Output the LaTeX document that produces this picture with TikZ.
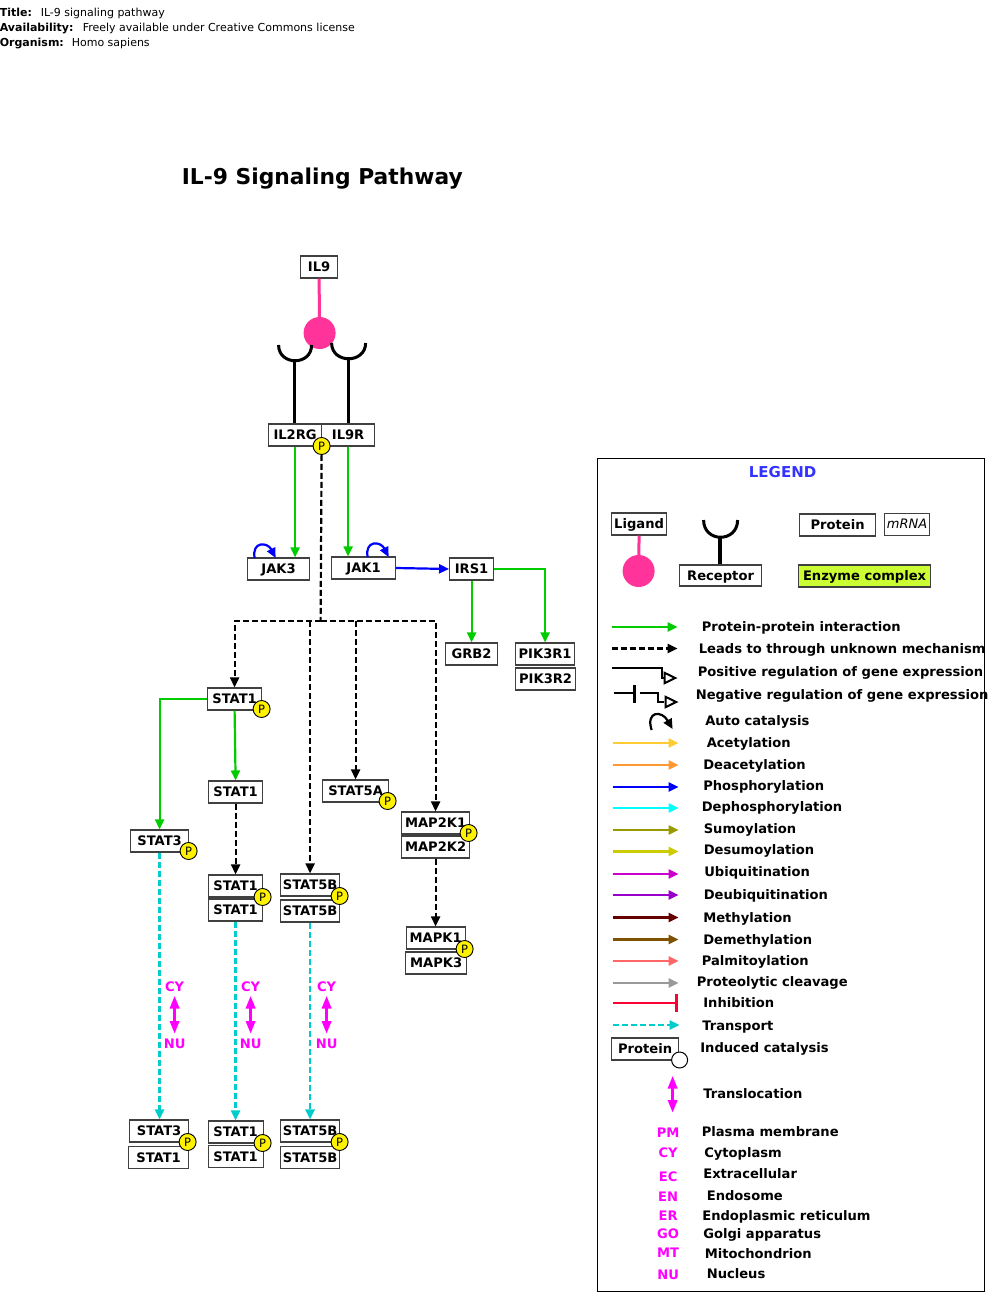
\documentclass[tikz,border=0pt]{standalone}
\usepackage{fontspec}
\setmainfont{DejaVu Sans}
\usetikzlibrary{arrows.meta,positioning}
\definecolor{ppigreen}{HTML}{00CC00}
\definecolor{ligandpink}{HTML}{FF3399}
\definecolor{transportcyan}{HTML}{00CCCC}
\definecolor{transloc}{HTML}{FF00FF}
\definecolor{legendblue}{HTML}{3333FF}
\definecolor{enzymegreen}{HTML}{CCFF33}
\definecolor{acetyl}{HTML}{FFCC33}
\definecolor{deacetyl}{HTML}{FF9933}
\definecolor{dephos}{HTML}{00FFFF}
\definecolor{sumo}{HTML}{999900}
\definecolor{desumo}{HTML}{CCCC00}
\definecolor{ubiq}{HTML}{CC00CC}
\definecolor{deubiq}{HTML}{9900CC}
\definecolor{methyl}{HTML}{660000}
\definecolor{demethyl}{HTML}{7F5200}
\definecolor{palm}{HTML}{FF6666}
\definecolor{proteo}{HTML}{999999}
\definecolor{inhib}{HTML}{FF0033}
\tikzset{
  protein/.style={draw=black!75,line width=1.1pt,fill=white,inner sep=0pt,text height=9pt,text depth=0pt,font=\fontsize{13.1}{13}\selectfont\bfseries},
  phospho/.style={circle,draw=black,line width=0.9pt,fill=yellow,minimum size=17pt,inner sep=0pt,font=\fontsize{11.5}{11}\selectfont},
  legendtext/.style={anchor=west,inner sep=0pt,text height=11.5pt,text depth=2.5pt,font=\fontsize{13.1}{13}\selectfont\bfseries},
  headtext/.style={anchor=west,inner sep=0pt,text height=12pt,text depth=2pt,font=\fontsize{11}{11}\selectfont},
  loctext/.style={text=transloc,inner sep=0pt,font=\fontsize{13.1}{13}\selectfont\bfseries},
  tip/.style={-{Triangle[length=10pt,width=9pt]}},
  ppi/.style={tip,ppigreen,line width=2.2pt},
  unknown/.style={tip,black,line width=2.2pt,dash pattern=on 6pt off 3pt},
  transport/.style={tip,transportcyan,line width=2.4pt,dash pattern=on 6pt off 3pt},
  phos/.style={tip,blue,line width=2.2pt},
  autocat/.style={-{Triangle[length=10pt,width=9pt]},blue,line width=2.2pt},
  stem/.style={black,line width=3.5pt},
  cup/.style={black,line width=3pt},
  ligline/.style={ligandpink,line width=3pt},
  ligball/.style={circle,fill=ligandpink,minimum size=32pt,inner sep=0pt},
  shuttle/.style={{Triangle[length=13pt,width=9pt]}-{Triangle[length=13pt,width=9pt]},transloc,line width=3.5pt},
  regul/.style={black,line width=2pt},
  opentip/.style={-{Triangle[open,fill=white,length=14pt,width=13pt]},black,line width=2pt}
}
\begin{document}
\begin{tikzpicture}[x=1pt,y=-1pt]
  \useasboundingbox (0.4,0) rectangle (1000.4,1306);
  % header
  \node[headtext] (htitle) at (0,12) {\bfseries Title:};
  \node[headtext] (hname) at (41,12) {IL-9 signaling pathway};
  \node[headtext] (havail) at (0,27) {\bfseries Availability:};
  \node[headtext] (hlicense) at (83,27) {Freely available under Creative Commons license};
  \node[headtext] (horg) at (0,42) {\bfseries Organism:};
  \node[headtext] (hhomo) at (72,42) {Homo sapiens};
  \node[anchor=west,inner sep=0pt,font=\fontsize{21.8}{22}\selectfont\bfseries] (maintitle) at (182,179) {IL-9 Signaling Pathway};

  % proteins
  \node[protein,minimum width=37pt,minimum height=22pt] (IL9) at (319.5,267) {IL9};
  \node[protein,minimum width=53pt,minimum height=22pt] (IL2RG) at (295.5,435) {IL2RG};
  \node[protein,minimum width=53pt,minimum height=22pt] (IL9R) at (348.5,435) {IL9R};
  \node[protein,minimum width=62pt,minimum height=22pt] (JAK3) at (279,569) {JAK3};
  \node[protein,minimum width=64pt,minimum height=22pt] (JAK1) at (364,568) {JAK1};
  \node[protein,minimum width=44pt,minimum height=22pt] (IRS1) at (472,569) {IRS1};
  \node[protein,minimum width=52pt,minimum height=22pt] (GRB2) at (472,654) {GRB2};
  \node[protein,minimum width=59pt,minimum height=22pt] (PIK3R1) at (545.5,654) {PIK3R1};
  \node[protein,minimum width=60pt,minimum height=22pt] (PIK3R2) at (546,679) {PIK3R2};
  \node[protein,minimum width=54pt,minimum height=22pt] (STAT1a) at (235,699) {STAT1};
  \node[protein,minimum width=54pt,minimum height=22pt] (STAT1b) at (236,792) {STAT1};
  \node[protein,minimum width=58pt,minimum height=22pt] (STAT3a) at (160,841) {STAT3};
  \node[protein,minimum width=66pt,minimum height=22pt] (STAT5A) at (356,791) {STAT5A};
  \node[protein,minimum width=68pt,minimum height=22pt] (MAP2K1) at (436,823) {MAP2K1};
  \node[protein,minimum width=68pt,minimum height=22pt] (MAP2K2) at (436,847) {MAP2K2};
  \node[protein,minimum width=59pt,minimum height=22pt] (MAPK1) at (436,938) {MAPK1};
  \node[protein,minimum width=61pt,minimum height=22pt] (MAPK3) at (436.5,963) {MAPK3};
  \node[protein,minimum width=54pt,minimum height=22pt] (STAT1c) at (236,886) {STAT1};
  \node[protein,minimum width=54pt,minimum height=22pt] (STAT1d) at (236,910) {STAT1};
  \node[protein,minimum width=59pt,minimum height=22pt] (STAT5Ba) at (310.5,885) {STAT5B};
  \node[protein,minimum width=59pt,minimum height=22pt] (STAT5Bb) at (310.5,911) {STAT5B};
  \node[protein,minimum width=59pt,minimum height=22pt] (STAT3b) at (159.5,1131) {STAT3};
  \node[protein,minimum width=60pt,minimum height=22pt] (STAT1e) at (159,1157.5) {STAT1};
  \node[protein,minimum width=55pt,minimum height=22pt] (STAT1f) at (236,1132) {STAT1};
  \node[protein,minimum width=55pt,minimum height=22pt] (STAT1g) at (236,1156.5) {STAT1};
  \node[protein,minimum width=59pt,minimum height=22pt] (STAT5Bc) at (310.5,1131) {STAT5B};
  \node[protein,minimum width=59pt,minimum height=22pt] (STAT5Bd) at (310.5,1157.5) {STAT5B};

  % ligand and receptors
  \node[ligball] (ball) at (320,333) {};
  \draw[ligline] (IL9.south) -- (ball);
  \coordinate (cupL) at (295,361);
  \coordinate (cupR) at (349,359);
  \draw[cup] (279,345) .. controls (279,366) and (312,366) .. (312,345);
  \draw[cup] (332,343) .. controls (332,364) and (366,364) .. (366,343);
  \draw[stem] (cupL) -- (cupL |- IL2RG.north);
  \draw[stem] (cupR) -- (cupR |- IL9R.north);

  % phospho marks
  \node[phospho] (pIL) at (322,446) {P};
  \node[phospho] (pS1a) at (262,709) {P};
  \node[phospho] (pS3a) at (189,851) {P};
  \node[phospho] (pS5A) at (388,801) {P};
  \node[phospho] (pM2) at (469,833) {P};
  \node[phospho] (pS1c) at (263,897) {P};
  \node[phospho] (pS5B) at (340,896) {P};
  \node[phospho] (pMK) at (465,949) {P};
  \node[phospho] (pS3b) at (188,1142) {P};
  \node[phospho] (pS1f) at (263,1143) {P};
  \node[phospho] (pS5Bc) at (340,1142) {P};

  % interactions
  \draw[ppi] (IL2RG.south) -- (IL2RG.south |- JAK3.north);
  \draw[ppi] (IL9R.south) -- (IL9R.south |- JAK1.north);
  \draw[phos] (JAK1.east) -- (IRS1.west);
  \draw[ppi] (IRS1.south) -- (GRB2.north);
  \draw[ppi] (IRS1.east) -| (PIK3R1.north);
  \coordinate (jak3s) at (255,558); \coordinate (jak3e) at (276,558);
  \coordinate (jak1s) at (368,557); \coordinate (jak1e) at (389,557);
  \draw[autocat] (jak3s) .. controls (252,541) and (268,542) .. (jak3e);
  \draw[autocat] (jak1s) .. controls (365,540) and (381,541) .. (jak1e);
  \draw[ppi] (STAT1a.west) -| (STAT3a.north);
  \draw[ppi] (STAT1a.south) -- (STAT1b.north);
  \draw[unknown] (STAT1b.south) -- (STAT1c.north);
  \draw[unknown] (MAP2K2.south) -- (MAPK1.north);

  % dashed bus
  \coordinate (bus) at (321,621);
  \draw[black,line width=2.2pt,dash pattern=on 6pt off 3pt] (pIL.south) -- (bus);
  \draw[unknown] (bus) -| (STAT1a.north);
  \draw[unknown] (bus) -| (MAP2K1.north);
  \draw[unknown] (bus -| STAT5Ba.north) -- (STAT5Ba.north);
  \draw[unknown] (bus -| STAT5A.north) -- (STAT5A.north);

  % transport
  \draw[transport] (STAT3a.south) -- (STAT3a.south |- STAT3b.north);
  \draw[transport] (STAT1d.south) -- (STAT1f.north);
  \draw[transport] (STAT5Bb.south) -- (STAT5Bc.north);
  \foreach \n/\x in {a/175,b/251,c/327}{
    \node[loctext] (cy\n) at (\x,986.5) {CY};
    \node[loctext] (nu\n) at (\x,1043.5) {NU};
    \coordinate (up\n) at (\x,995.5);
    \coordinate (dn\n) at (\x,1034);
    \draw[shuttle] (up\n) -- (dn\n);
  }

  % legend
  \draw[black,line width=1pt] (598,458) rectangle (985,1291);
  \node[inner sep=0pt,text=legendblue,font=\fontsize{15}{15}\selectfont\bfseries] (legend) at (783,472.5) {LEGEND};
  \node[protein,minimum width=55pt,minimum height=22pt] (lLigand) at (639.5,524) {Ligand};
  \node[ligball] (lball) at (639,571) {};
  \draw[ligline] (lLigand.south) -- (lball);
  \node[protein,minimum width=82pt,minimum height=21pt] (lReceptor) at (721,575.5) {Receptor};
  \coordinate (lcup) at (720.5,538);
  \draw[cup] (704,520) .. controls (704,543) and (738,543) .. (738,520);
  \draw[stem] (lcup) -- (lcup |- lReceptor.north);
  \node[protein,minimum width=76pt,minimum height=22pt] (lProtein) at (838,525) {Protein};
  \node[draw=black!75,line width=1pt,minimum width=45pt,minimum height=22pt,inner sep=0pt,font=\fontsize{13}{13}\selectfont\itshape] (lmRNA) at (907.5,524) {mRNA};
  \node[protein,fill=enzymegreen,minimum width=132pt,minimum height=22pt] (lEnzyme) at (865,576) {Enzyme complex};

  \coordinate (s1) at (612,627); \coordinate (e1) at (678,627);
  \draw[ppi] (s1) -- (e1);
  \coordinate (s2) at (612,648.5); \coordinate (e2) at (678,648.5);
  \draw[unknown] (s2) -- (e2);
  \coordinate (s3) at (612,668); \coordinate (e3) at (678,678);
  \draw[regul] (s3) -- ++(50,0) -- ++(0,9.5) -- ++(4,0);
  \draw[opentip] (e3)++(-14,0) -- (e3);
  \coordinate (s4) at (614,693); \coordinate (e4) at (679,702);
  \draw[regul] (s4) -- ++(20,0);
  \draw[black,line width=3pt] (635,685) -- (635,703);
  \draw[regul] (640,693) -- ++(18,0) -- ++(0,9) -- ++(6,0);
  \draw[opentip] (e4)++(-14,0) -- (e4);
  \coordinate (s5) at (652,730); \coordinate (e5) at (673,729);
  \draw[autocat,black] (s5) .. controls (646,711) and (662,710) .. (e5);
  \foreach \n/\y/\cc in {6/743/acetyl,7/765/deacetyl,8/787/blue,9/808/dephos,10/830/sumo,11/851.5/desumo,12/874/ubiq,13/895/deubiq,14/917.5/methyl,15/939.5/demethyl,16/961/palm,17/983/proteo}{
    \coordinate (s\n) at (613,\y);
    \coordinate (e\n) at (679,\y);
    \draw[tip,\cc,line width=2.2pt] (s\n) -- (e\n);
  }
  \coordinate (s18) at (613,1003); \coordinate (e18) at (678,1003);
  \draw[inhib,line width=2.5pt,-{Bar[width=18pt,line width=3pt]}] (s18) -- (e18);
  \coordinate (s19) at (613,1025); \coordinate (e19) at (680,1025);
  \draw[transport] (s19) -- (e19);
  \node[protein,minimum width=67pt,minimum height=22pt] (lCat) at (645.5,1049) {Protein};
  \node[circle,draw=black,line width=1pt,fill=white,minimum size=16pt,inner sep=0pt] (lCircle) at (680,1060) {};
  \coordinate (s20) at (673,1075.5); \coordinate (e20) at (673,1113);
  \draw[shuttle] (s20) -- (e20);

  % legend texts
  \foreach \n/\x/\y/\tx in {1/702/627/Protein-protein interaction,
    2/699/648.5/Leads to through unknown mechanism,
    3/698/671.5/Positive regulation of gene expression,
    4/696/694.5/Negative regulation of gene expression,
    5/705.5/720.5/Auto catalysis,
    6/707/742.5/Acetylation,
    7/703.5/765/Deacetylation,
    8/703.5/786/Phosphorylation,
    9/702/807/Dephosphorylation,
    10/704/828.5/Sumoylation,
    11/704/850/Desumoylation,
    12/704.5/872/Ubiquitination,
    13/704/895/Deubiquitination,
    14/703.5/918/Methylation,
    15/703.5/939.5/Demethylation,
    16/702/960.5/Palmitoylation,
    17/697/982/Proteolytic cleavage,
    18/703.5/1003/Inhibition,
    19/702.5/1025.5/Transport,
    20/700.5/1047.5/Induced catalysis,
    21/703.5/1093.5/Translocation,
    22/702/1131.5/Plasma membrane,
    23/704.5/1153/Cytoplasm,
    24/703.5/1174/Extracellular,
    25/707/1196/Endosome,
    26/702.5/1215.5/Endoplasmic reticulum,
    27/703.5/1234/Golgi apparatus,
    28/705/1253.5/Mitochondrion,
    29/707/1274/Nucleus}{
    \node[legendtext] (t\n) at (\x,\y) {\tx};
  }
  \foreach \n/\y/\tx in {22/1132.5/PM,23/1153/CY,24/1176.5/EC,25/1197/EN,26/1215.5/ER,27/1234/GO,28/1252.5/MT,29/1274.5/NU}{
    \node[loctext] (loc\n) at (668.5,\y) {\tx};
  }
\end{tikzpicture}
\end{document}
